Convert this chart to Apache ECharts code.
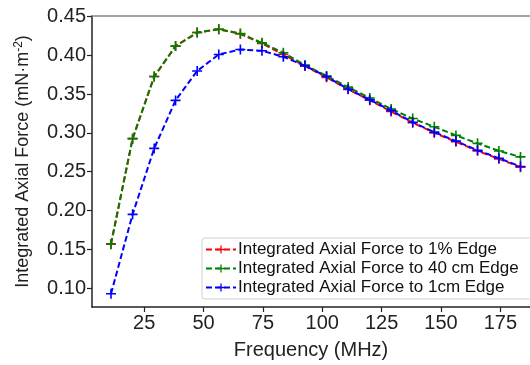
<!DOCTYPE html>
<html>
<head>
<meta charset="utf-8">
<script src="https://cdn.jsdelivr.net/npm/echarts@6/dist/echarts.min.js"></script>
<style>
html,body{margin:0;padding:0;background:#fff;}
#chart{width:530px;height:365px;}
</style>
</head>
<body>
<div id="chart"></div>
<script>
// Data
const frequency = [11, 20.1, 29.2, 38.2, 47.3, 56.4, 65.5, 74.6, 83.6, 92.7, 101.8, 110.9, 120, 129, 138.1, 147.2, 156.3, 165.4, 174.4, 183.5];
const force1pct = [0.157, 0.2925, 0.3725, 0.4117, 0.4292, 0.4334, 0.4275, 0.4150, 0.4010, 0.3860, 0.3715, 0.3560, 0.3420, 0.3275, 0.3130, 0.3000, 0.2885, 0.2768, 0.2665, 0.2558];
const force40cm = [0.1566, 0.2925, 0.3725, 0.4117, 0.4292, 0.4334, 0.4279, 0.4159, 0.4031, 0.3874, 0.3733, 0.3589, 0.3449, 0.3308, 0.3184, 0.3078, 0.2967, 0.2865, 0.2767, 0.2690];
const force1cm = [0.0927, 0.195, 0.280, 0.3418, 0.3797, 0.401, 0.4074, 0.4057, 0.398, 0.3865, 0.3725, 0.3564, 0.3427, 0.3286, 0.3137, 0.3009, 0.2894, 0.2775, 0.2673, 0.2567];
const seriesNames = ['Integrated Axial Force to 1% Edge', 'Integrated Axial Force to 40 cm Edge', 'Integrated Axial Force to 1cm Edge'];
const seriesColors = ['#ff0000', '#008000', '#0000ff'];
const xTicks = [25, 50, 75, 100, 125, 150, 175];
const yTicks = [0.10, 0.15, 0.20, 0.25, 0.30, 0.35, 0.40, 0.45];

const FONT = 'Liberation Sans';
const plus = 'path://M4.2,0H5.8V10H4.2Z M0,4.2H10V5.8H0Z';

function pairs(ys) { return frequency.map((f, i) => [f, ys[i]]); }
const allY = [force1pct, force40cm, force1cm];

const chart = echarts.init(document.getElementById('chart'), null, {renderer: 'canvas'});
chart.setOption({
  animation: false,
  backgroundColor: '#fff',
  textStyle: {fontFamily: FONT},
  grid: {left: 92, right: 0, top: 16, bottom: 56},
  xAxis: [{
    type: 'value', min: 3, max: 187.5, position: 'bottom',
    name: 'Frequency (MHz)', nameLocation: 'middle', nameGap: 33,
    nameTextStyle: {fontFamily: FONT, fontSize: 20, color: '#222'},
    axisLine: {show: true, onZero: false, lineStyle: {color: '#222', width: 1.5}},
    axisTick: {show: true, length: 5, customValues: xTicks, lineStyle: {color: '#222', width: 1.2}},
    axisLabel: {customValues: xTicks, fontFamily: FONT, fontSize: 20, color: '#222', margin: 6},
    splitLine: {show: false}
  }, {
    type: 'value', min: 3, max: 187.5, position: 'top',
    axisLine: {show: true, onZero: false, lineStyle: {color: '#888', width: 1.5}},
    axisTick: {show: false}, axisLabel: {show: false}, splitLine: {show: false}
  }],
  yAxis: {
    type: 'value', min: 0.0757, max: 0.4505,
    name: 'Integrated Axial Force (mN·m{sup|-2})', nameLocation: 'middle', nameGap: 59, nameRotate: 90,
    nameTextStyle: {fontFamily: FONT, fontSize: 18, color: '#222',
      rich: {sup: {fontFamily: FONT, fontSize: 12, color: '#222', verticalAlign: 'top', padding: [0,0,8,0]}}},
    axisLine: {show: true, onZero: false, lineStyle: {color: '#222', width: 1.5}},
    axisTick: {show: true, length: 5, customValues: yTicks, lineStyle: {color: '#222', width: 1.2}},
    axisLabel: {customValues: yTicks, fontFamily: FONT, fontSize: 20, color: '#222', margin: 6,
      formatter: v => v.toFixed(2)},
    splitLine: {show: false}
  },
  legend: {
    left: 202, top: 238, orient: 'vertical',
    itemWidth: 30, itemHeight: 10, itemGap: 2,
    padding: [3, 14, 3, 3],
    borderColor: '#d0d0d0', borderWidth: 1, borderRadius: 3,
    backgroundColor: 'rgba(255,255,255,0.85)',
    textStyle: {fontFamily: FONT, fontSize: 17, color: '#111', padding: [0,0,0,-3]},
    data: seriesNames
  },
  series: seriesNames.map((n, k) => ({
    name: n, type: 'line', data: pairs(allY[k]),
    smooth: false, symbol: plus, symbolSize: 10, showSymbol: true,
    lineStyle: {color: seriesColors[k], width: 2, type: [6, 3]},
    itemStyle: {color: seriesColors[k]},
    z: 2 + k
  }))
});
</script>
</body>
</html>
